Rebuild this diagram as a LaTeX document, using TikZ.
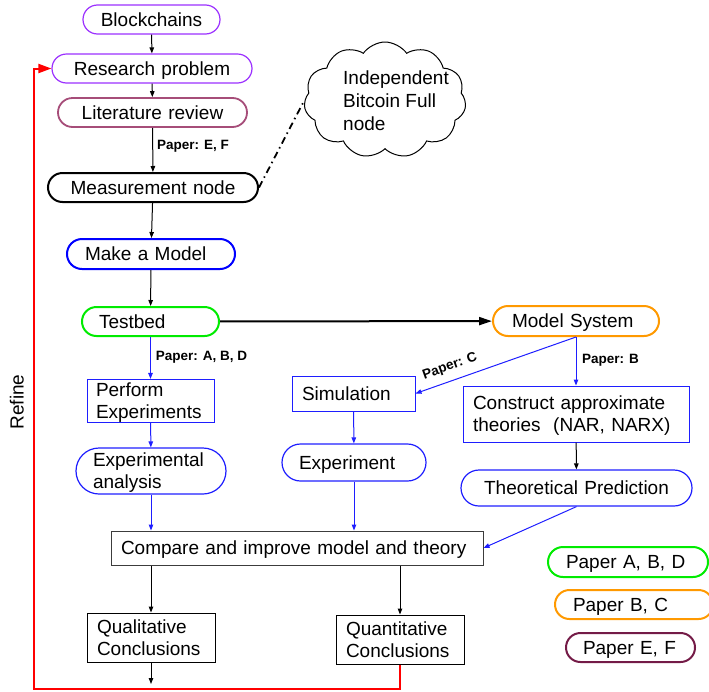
\documentclass[tikz,border=0pt]{standalone}
\usepackage{fontspec}
\setmainfont{Liberation Sans}
\usetikzlibrary{arrows.meta,shapes.symbols}

\definecolor{violetline}{RGB}{155,48,255}
\definecolor{mauveline}{RGB}{166,77,121}
\definecolor{greenline}{RGB}{0,235,0}
\definecolor{orangeline}{RGB}{255,153,0}
\definecolor{maroonline}{RGB}{116,27,71}
\definecolor{blueline}{RGB}{30,30,255}
\definecolor{redline}{RGB}{255,0,0}
\definecolor{grayline}{RGB}{60,60,60}

\tikzset{
  % text with the font's full ascent and descent, so caps sit centred
  txt/.style={font=\fontsize{19}{22}\selectfont,
    execute at begin node={\rule{0pt}{17.2pt}},
    execute at end node={\rule[-4pt]{0pt}{0pt}}},
  tag/.style={font=\fontsize{13.5}{16}\selectfont\bfseries, inner sep=0pt},
  boxbase/.style={txt, inner ysep=0pt, draw},
  pill/.style={boxbase, rounded corners=#1},
  plainbox/.style={boxbase, line width=1pt},
  thin arrow/.style={line width=1pt, -{Triangle[length=6pt,width=4.5pt]}},
  flowblue/.style={thin arrow, draw=blueline},
  flowblack/.style={thin arrow, draw=black},
}

\begin{document}
\begin{tikzpicture}[x=1pt,y=-1pt]
\useasboundingbox (0,0) rectangle (709,691);

% main column
\node[pill=14.5pt, draw=violetline, line width=1.2pt, minimum width=137pt, minimum height=29pt, text width=117pt, inner xsep=10pt, align=center]
  (blk) at (151.5,19.5) {Blockchains};
\node[pill=14.5pt, draw=violetline, line width=1.2pt, minimum width=200pt, minimum height=29pt, text width=180pt, inner xsep=10pt, align=center]
  (rp) at (152,68.5) {Research problem};
\node[pill=14.5pt, draw=mauveline, line width=1.8pt, minimum width=189pt, minimum height=29pt, text width=169pt, inner xsep=10pt, align=center]
  (lr) at (152.5,112.5) {Literature review};
\node[pill=14.5pt, draw=black, line width=2pt, minimum width=210pt, minimum height=29pt, text width=190pt, inner xsep=10pt, align=center]
  (mn) at (153,187.5) {Measurement node};
\node[pill=15pt, draw=blue, line width=2pt, minimum width=168pt, minimum height=30pt, text width=132pt, inner xsep=18pt, align=left]
  (mm) at (151,254) {Make a Model};
\node[pill=14.5pt, draw=greenline, line width=2pt, minimum width=137pt, minimum height=29pt, text width=103pt, inner xsep=17pt, align=left]
  (tb) at (150.5,321.5) {Testbed};
\node[pill=15pt, draw=orangeline, line width=2pt, minimum width=166pt, minimum height=30pt, text width=128pt, inner xsep=19pt, align=left]
  (ms) at (576,321) {Model System};

% experiment branch
\node[plainbox, draw=blueline, minimum width=127pt, minimum height=42pt, text width=109pt, inner xsep=9pt, align=left]
  (pe) at (150.5,401) {Perform\\Experiments};
\node[pill=23pt, draw=blueline, line width=1.2pt, minimum width=150pt, minimum height=46pt, text width=116pt, inner xsep=17pt, align=left]
  (ea) at (151,471) {Experimental\\analysis};

% simulation branch
\node[plainbox, draw=blueline, minimum width=123pt, minimum height=35pt, text width=103pt, inner xsep=10pt, align=left]
  (sim) at (353.5,393.5) {Simulation};
\node[pill=18.5pt, draw=blueline, line width=1.2pt, minimum width=144pt, minimum height=37pt, text width=110pt, inner xsep=17pt, align=left]
  (ex) at (354,462.5) {Experiment};

% theory branch
\node[plainbox, draw=blueline, minimum width=226pt, minimum height=56pt, text width=206pt, inner xsep=10pt, align=left]
  (ca) at (576,414) {Construct approximate\\theories\ \ (NAR, NARX)};
\node[pill=18pt, draw=blueline, line width=1.2pt, minimum width=231pt, minimum height=36pt, text width=211pt, inner xsep=10pt, align=center]
  (tp) at (576.5,488) {Theoretical Prediction};

% comparison and conclusions
\node[plainbox, draw=grayline, minimum width=372pt, minimum height=34pt, text width=352pt, inner xsep=10pt, align=left]
  (cmp) at (297,548) {Compare and improve model and theory};
\node[plainbox, draw=black, minimum width=128pt, minimum height=49pt, text width=108pt, inner xsep=10pt, align=left]
  (ql) at (151,637.5) {Qualitative\\Conclusions};
\node[plainbox, draw=black, minimum width=128pt, minimum height=49pt, text width=108pt, inner xsep=10pt, align=left]
  (qn) at (400,639.5) {Quantitative\\Conclusions};

% full node cloud
\node[cloud, draw=black, line width=1pt, cloud puffs=11, cloud puff arc=110, minimum width=162pt, minimum height=116pt, inner sep=0pt]
  (cld) at (385,100) {};
\node[font=\fontsize{19}{23.3}\selectfont, align=left, inner sep=0pt, anchor=west]
  (cldtext) at (343,100.8) {Independent\\Bitcoin Full\\node};

% legend
\node[pill=15pt, draw=greenline, line width=2pt, minimum width=160pt, minimum height=30pt, text width=124pt, inner xsep=18pt, align=left]
  (la) at (628,562) {Paper A, B, D};
\node[pill=14.5pt, draw=orangeline, line width=2pt, minimum width=158pt, minimum height=29pt, text width=122pt, inner xsep=18pt, align=left]
  (lb) at (634,604.5) {Paper B, C};
\node[pill=14.5pt, draw=maroonline, line width=2pt, minimum width=129pt, minimum height=29pt, text width=95pt, inner xsep=17pt, align=left]
  (le) at (630.5,647.5) {Paper E, F};

% side label
\node[txt, rotate=90, inner sep=0pt] (refine) at (17,402) {Refine};

% paper tags on connectors
\node[tag, anchor=west] (tagef) at (157,146.7) {Paper: E, F};
\node[tag, anchor=west] (tagabd) at (155.7,357.7) {Paper: A, B, D};
\node[tag, anchor=west] (tagb) at (582,360.7) {Paper: B};
\node[tag, rotate=19.5] (tagc) at (450,366.5) {Paper: C};

% connectors of the main column
\draw[flowblack] (blk) -- (rp);
\draw[flowblack] (rp) -- (lr);
\draw[flowblack] (lr) -- (mn);
\draw[flowblack] (mn) -- (mm);
\draw[flowblack] (mm) -- (tb);
\draw[line width=2pt, -{Triangle[length=13pt,width=8pt]}] (tb) -- (ms);
\draw[line width=1.8pt, dash pattern=on 7pt off 4pt on 1.5pt off 4pt] (mn.east) -- (cld.west);

% experiment branch connectors
\draw[flowblue] (tb) -- (pe);
\draw[flowblue] (pe) -- (ea);
\draw[flowblue] (ea.south) -- (ea.south |- cmp.north);

% simulation and theory connectors
\draw[flowblue] (ms.south) -- (sim.east);
\draw[flowblue] (ms.south) -- (ca.north);
\draw[flowblue] (sim) -- (ex);
\draw[flowblue] (ex.south) -- (ex.south |- cmp.north);
\draw[flowblack] (ca) -- (tp);
\draw[flowblue] (tp.south) -- (cmp.east);

% conclusions
\draw[flowblack] (ql.north |- cmp.south) -- (ql.north);
\draw[flowblack] (qn.north |- cmp.south) -- (qn.north);
\coordinate (qlend) at (151,684);
\draw[flowblack] (ql.south) -- (qlend);

% refine loop
\coordinate (loopbr) at (400,689);
\coordinate (loopbl) at (33.5,689);
\draw[draw=redline, line width=2pt, -{Triangle[length=13pt,width=9pt]}]
  (qn.south) -- (loopbr) -- (loopbl) -- (loopbl |- rp.west) -- (rp.west);
\end{tikzpicture}
\end{document}
